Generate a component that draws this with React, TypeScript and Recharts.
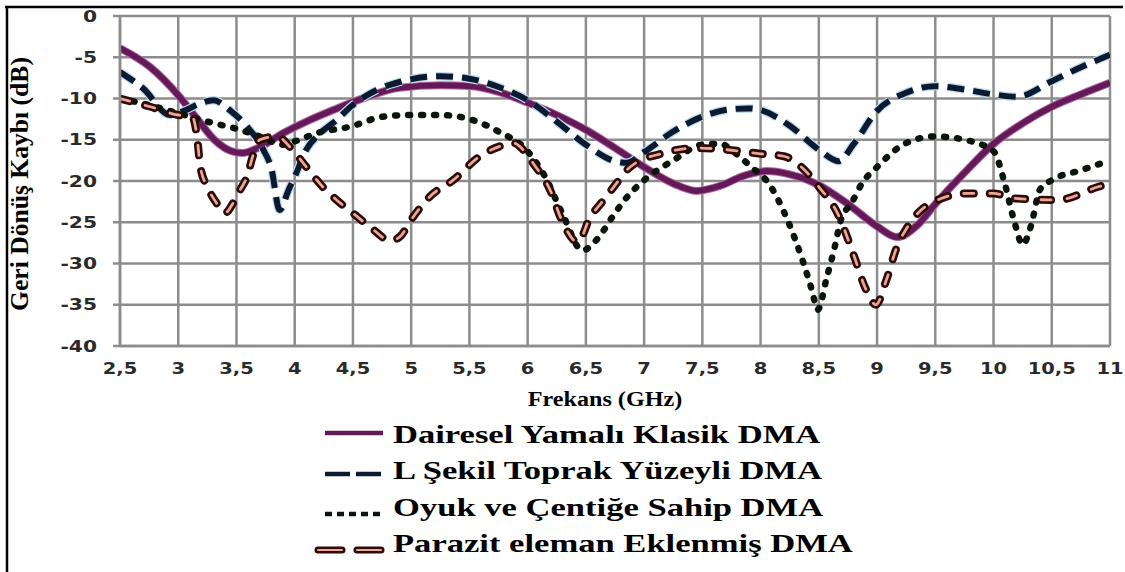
import React from 'react';
import { LineChart, Line, XAxis, YAxis, CartesianGrid } from 'recharts';

const xTicks = [2.5, 3, 3.5, 4, 4.5, 5, 5.5, 6, 6.5, 7, 7.5, 8, 8.5, 9, 9.5, 10, 10.5, 11];
const yTicks = [0, -5, -10, -15, -20, -25, -30, -35, -40];

const seriesNames = [
  'Dairesel Yamalı Klasik DMA',
  'L Şekil Toprak Yüzeyli DMA',
  'Oyuk ve Çentiğe Sahip DMA',
  'Parazit eleman Eklenmiş DMA',
];

const daireselFreq = [2.5, 2.76, 3.0, 3.17, 3.31, 3.46, 3.55, 3.7, 3.9, 4.1, 4.33, 4.62, 4.9, 5.25, 5.5, 5.75, 6.0, 6.25, 6.5, 6.75, 7.0, 7.25, 7.45, 7.65, 7.85, 8.05, 8.25, 8.5, 8.75, 9.0, 9.17, 9.35, 9.5, 9.75, 10.0, 10.25, 10.5, 10.75, 11.0];
const daireselDb = [-3.9, -6.2, -9.6, -12.6, -15.0, -16.4, -16.6, -15.9, -14.2, -12.8, -11.4, -9.8, -8.7, -8.4, -8.5, -9.2, -10.5, -12.0, -13.8, -16.0, -18.3, -20.3, -21.2, -20.6, -19.4, -18.8, -19.2, -20.5, -22.8, -25.5, -26.8, -25.3, -22.8, -19.0, -15.5, -13.0, -11.0, -9.5, -8.1];

const lSekilFreq = [2.5, 2.7, 2.93, 3.05, 3.19, 3.3, 3.45, 3.59, 3.73, 3.8, 3.87, 3.95, 4.0, 4.1, 4.22, 4.36, 4.48, 4.7, 4.9, 5.25, 5.5, 5.75, 6.0, 6.25, 6.5, 6.75, 6.85, 7.0, 7.25, 7.5, 7.75, 7.9, 8.0, 8.25, 8.5, 8.67, 8.8, 9.0, 9.25, 9.5, 9.75, 10.0, 10.2, 10.5, 10.75, 11.0];
const lSekilDb = [-6.8, -8.8, -12.0, -11.5, -10.6, -10.2, -11.5, -13.4, -16.2, -18.5, -23.5, -21.0, -19.5, -16.2, -14.2, -12.6, -11.0, -9.0, -8.0, -7.3, -7.6, -8.6, -10.2, -12.8, -15.6, -17.6, -17.8, -16.5, -14.0, -12.2, -11.3, -11.2, -11.4, -13.3, -16.2, -17.6, -15.5, -11.5, -9.3, -8.5, -8.9, -9.5, -9.8, -7.9, -6.2, -4.7];

const oyukFreq = [2.5, 2.75, 3.0, 3.25, 3.53, 3.7, 3.9, 4.0, 4.19, 4.48, 4.76, 5.0, 5.25, 5.5, 5.75, 6.0, 6.15, 6.3, 6.47, 6.6, 6.73, 6.85, 7.0, 7.25, 7.5, 7.65, 7.8, 7.92, 8.07, 8.23, 8.36, 8.44, 8.49, 8.57, 8.63, 8.69, 8.78, 8.87, 9.0, 9.25, 9.5, 9.75, 10.0, 10.1, 10.18, 10.25, 10.32, 10.4, 10.5, 10.75, 11.0];
const oyukDb = [-10.0, -10.8, -11.8, -12.8, -13.8, -14.6, -15.6, -15.2, -14.2, -13.4, -12.2, -12.0, -12.0, -12.5, -14.0, -16.4, -19.5, -24.0, -28.4, -27.0, -24.3, -22.0, -19.9, -17.5, -15.6, -15.5, -16.8, -18.3, -20.3, -24.7, -29.6, -33.2, -35.6, -31.6, -28.4, -24.7, -22.7, -20.3, -18.3, -15.4, -14.6, -15.0, -16.4, -20.5, -25.0, -27.7, -25.5, -21.0, -19.9, -18.7, -17.5];

const parazitFreq = [2.5, 2.76, 3.0, 3.12, 3.16, 3.19, 3.25, 3.33, 3.4, 3.47, 3.53, 3.59, 3.64, 3.7, 3.85, 3.96, 4.1, 4.24, 4.36, 4.5, 4.65, 4.82, 4.9, 5.0, 5.16, 5.36, 5.59, 5.76, 5.88, 5.96, 6.05, 6.19, 6.3, 6.43, 6.54, 6.63, 6.74, 6.88, 7.17, 7.45, 7.7, 8.0, 8.2, 8.4, 8.5, 8.66, 8.8, 8.9, 8.99, 9.08, 9.17, 9.26, 9.46, 9.78, 10.0, 10.17, 10.55, 10.9, 11.0];
const parazitDb = [-10.0, -11.0, -12.0, -12.2, -14.5, -18.3, -20.7, -22.7, -23.9, -22.7, -21.1, -19.5, -17.0, -15.0, -14.6, -15.9, -18.3, -20.7, -22.3, -23.9, -25.6, -27.2, -26.8, -24.7, -21.9, -19.9, -17.0, -15.8, -15.4, -16.2, -17.9, -21.0, -25.0, -27.4, -24.3, -22.7, -20.7, -18.3, -16.6, -16.0, -16.2, -16.7, -17.0, -19.0, -20.7, -23.9, -29.0, -33.0, -35.0, -32.0, -28.0, -25.6, -22.7, -21.5, -21.5, -22.1, -22.3, -20.7, -20.3];

const toPoints = (fs: number[], vs: number[]) => fs.map((f, i) => ({ f, v: vs[i] }));

const daireselData = toPoints(daireselFreq, daireselDb);
const lSekilData = toPoints(lSekilFreq, lSekilDb);
const oyukData = toPoints(oyukFreq, oyukDb);
const parazitData = toPoints(parazitFreq, parazitDb);

const PURPLE = '#641a58';
const NAVY = '#0b1a30';
const GREEN = '#0a160c';
const BROWN = '#2c0b09';
const PINK = '#e9a596';
const GRID = '#8c8c8c';
const SERIF = "'Liberation Serif', 'Times New Roman', Tinos, serif";
const SANS = "'DejaVu Sans', Verdana, sans-serif";

const XTick = (props: any) => {
  const { x, y, payload } = props;
  return (
    <g transform={`translate(${x},${y})`}>
      <text transform="scale(1.3,1)" textAnchor="middle" x={0} y={28} fontFamily={SANS} fontWeight="bold" fontSize={15} fill="#2a2a2a">
        {String(payload.value).replace('.', ',')}
      </text>
    </g>
  );
};

const YTick = (props: any) => {
  const { x, y, payload } = props;
  return (
    <g transform={`translate(${x},${y})`}>
      <text transform="scale(1.35,1)" textAnchor="end" x={0} y={5.5} fontFamily={SANS} fontWeight="bold" fontSize={15} fill="#2a2a2a">
        {String(payload.value)}
      </text>
    </g>
  );
};

const legendRows = [0, 1, 2, 3];
const legendTextY = [443, 479, 516, 552];

export default function App() {
  return (
    <div style={{ position: 'absolute', left: 0, top: 0, width: 1125, height: 572, background: '#fff', overflow: 'hidden' }}>
      <LineChart width={1125} height={572} margin={{ top: 16, right: 15, bottom: 196, left: 60 }}>
        <CartesianGrid stroke={GRID} strokeWidth={2.5} />
        <XAxis
          dataKey="f"
          type="number"
          domain={[2.5, 11]}
          ticks={xTicks}
          interval={0}
          allowDataOverflow
          height={30}
          tickSize={0}
          tickMargin={0}
          tickLine={false}
          axisLine={{ stroke: GRID, strokeWidth: 2.5 }}
          tick={<XTick />}
        />
        <YAxis
          type="number"
          domain={[-40, 0]}
          ticks={yTicks}
          interval={0}
          allowDataOverflow
          width={60}
          tickSize={7}
          tickMargin={16}
          tickLine={{ stroke: GRID, strokeWidth: 2.5 }}
          axisLine={{ stroke: GRID, strokeWidth: 2.5 }}
          tick={<YTick />}
        />
        <Line data={daireselData} dataKey="v" name="halo1" type="monotone" stroke="#b46aa4" strokeWidth={8} dot={false} activeDot={false} isAnimationActive={false} legendType="none" />
        <Line data={daireselData} dataKey="v" name={seriesNames[0]} type="monotone" stroke={PURPLE} strokeWidth={6} dot={false} activeDot={false} isAnimationActive={false} />
        <Line data={lSekilData} dataKey="v" name="halo2" type="monotone" stroke="#b9dcef" strokeWidth={8.5} strokeDasharray="17 9" dot={false} activeDot={false} isAnimationActive={false} legendType="none" />
        <Line data={lSekilData} dataKey="v" name={seriesNames[1]} type="monotone" stroke={NAVY} strokeWidth={6} strokeDasharray="17 9" dot={false} activeDot={false} isAnimationActive={false} />
        <Line data={oyukData} dataKey="v" name={seriesNames[2]} type="monotone" stroke={GREEN} strokeWidth={6.5} strokeDasharray="2 11" strokeLinecap="round" dot={false} activeDot={false} isAnimationActive={false} />
        <Line data={parazitData} dataKey="v" name={seriesNames[3]} type="monotone" stroke={BROWN} strokeWidth={8} strokeDasharray="10 16" strokeLinecap="round" dot={false} activeDot={false} isAnimationActive={false} />
        <Line data={parazitData} dataKey="v" name="inner" type="monotone" stroke={PINK} strokeWidth={2.8} strokeDasharray="10 16" strokeLinecap="round" dot={false} activeDot={false} isAnimationActive={false} legendType="none" />
      </LineChart>
      <svg width={1125} height={572} style={{ position: 'absolute', left: 0, top: 0, pointerEvents: 'none' }}>
        <line x1={5} y1={7} x2={1123} y2={7} stroke="#000" strokeWidth={2.5} />
        <line x1={7} y1={6} x2={7} y2={572} stroke="#000" strokeWidth={2.5} />
        <text transform="translate(28,184) rotate(-90) scale(1.28,1.3)" textAnchor="middle" fontFamily={SERIF} fontWeight="bold" fontSize={20} fill="#000">
          Geri Dönüş Kaybı (dB)
        </text>
        <text transform="translate(605,406) scale(1.15,1)" textAnchor="middle" fontFamily={SERIF} fontWeight="bold" fontSize={21} fill="#000">
          Frekans (GHz)
        </text>
        <line x1={325} y1={433} x2={383} y2={433} stroke={PURPLE} strokeWidth={4.5} />
        <line x1={325} y1={474} x2={383} y2={474} stroke={NAVY} strokeWidth={4.5} strokeDasharray="25 6" />
        <line x1={325} y1={514} x2={383} y2={514} stroke={GREEN} strokeWidth={4.5} strokeDasharray="7 5" />
        <line x1={318} y1={550} x2={342} y2={550} stroke={BROWN} strokeWidth={7} strokeLinecap="round" />
        <line x1={318} y1={550} x2={342} y2={550} stroke={PINK} strokeWidth={2} strokeLinecap="round" />
        <line x1={357} y1={550} x2={381} y2={550} stroke={BROWN} strokeWidth={7} strokeLinecap="round" />
        <line x1={357} y1={550} x2={381} y2={550} stroke={PINK} strokeWidth={2} strokeLinecap="round" />
        {legendRows.map((i) => (
          <text key={i} transform={`translate(393,${legendTextY[i]}) scale(1.33,1)`} fontFamily={SERIF} fontWeight="bold" fontSize={26} fill="#000">
            {seriesNames[i]}
          </text>
        ))}
      </svg>
    </div>
  );
}
